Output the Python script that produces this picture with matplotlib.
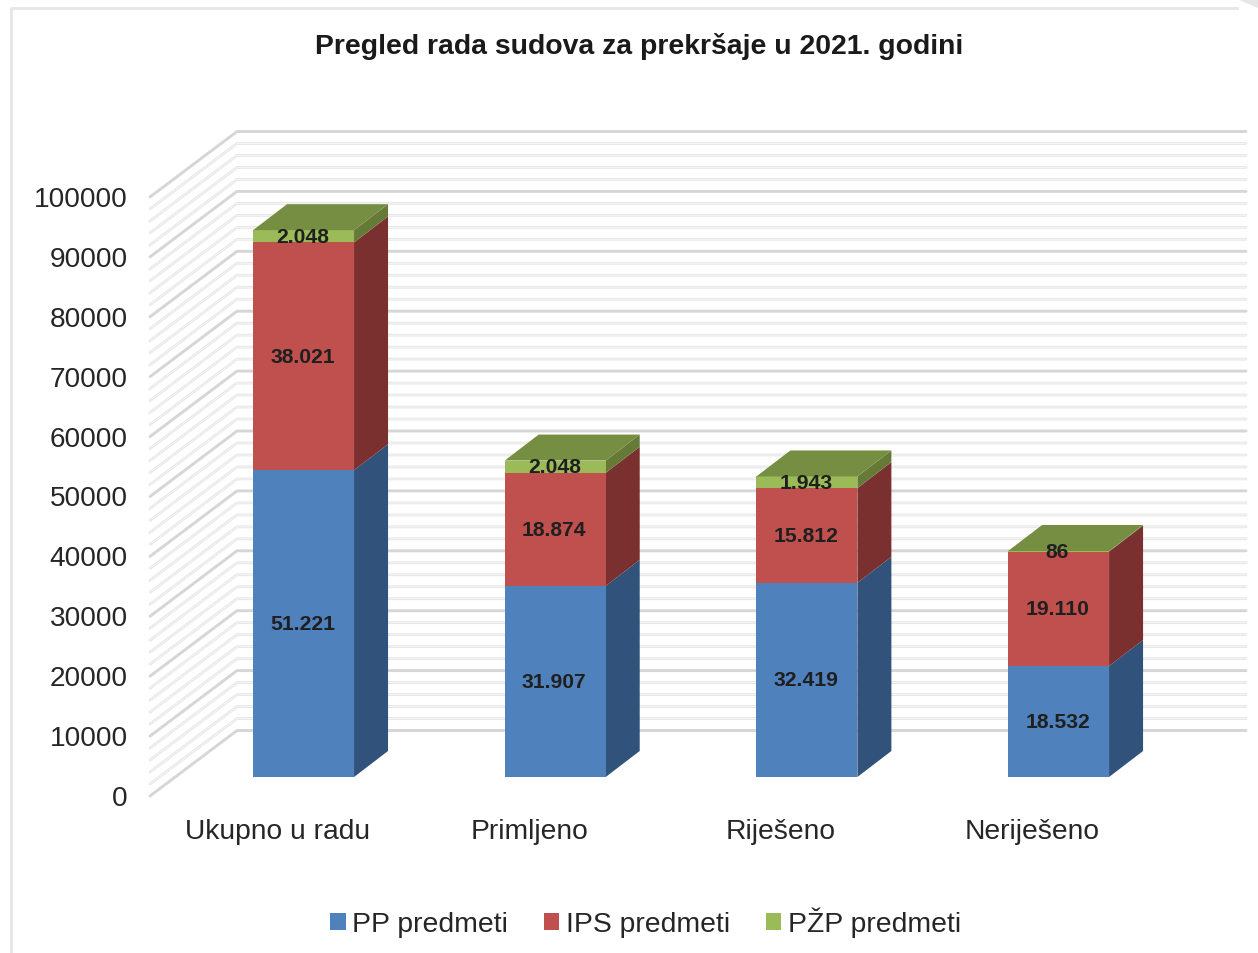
import matplotlib
matplotlib.use("Agg")
import matplotlib.pyplot as plt
from matplotlib.patches import Polygon, Patch
from matplotlib.lines import Line2D
from matplotlib.transforms import ScaledTranslation

plt.rcParams['font.family'] = ['Liberation Sans', 'DejaVu Sans']

title = "Pregled rada sudova za prekršaje u 2021. godini"
categories = ["Ukupno u radu", "Primljeno", "Riješeno", "Neriješeno"]
pp_values = [51221, 31907, 32419, 18532]
ips_values = [38021, 18874, 15812, 19110]
pzp_values = [2048, 2048, 1943, 86]
series_names = ["PP predmeti", "IPS predmeti", "PŽP predmeti"]
front_colors = ["#4f81bd", "#c0504d", "#9bbb59"]
side_colors = ["#31527b", "#7a302e", "#667a38"]
top_color = "#768e41"
y_ticks = list(range(0, 100001, 10000))
minor_ticks = list(range(0, 100001, 2000))

W, H = 1258, 954
fig = plt.figure(figsize=(W / 100, H / 100), dpi=100, facecolor="white")
L, R, B, T = 150, 1156.7, 797, 198
ax = fig.add_axes([L / W, 1 - B / H, (R - L) / W, (B - T) / H])
ax.set_xlim(-0.5, 3.5)
ax.set_ylim(0, 100000)
ax.patch.set_alpha(0)
for s in ax.spines.values():
    s.set_visible(False)

xu = (R - L) / 4          # px per category
yu = (B - T) / 100000     # px per value unit
WALL_X, WALL_Y = 87 / xu, 65.5 / yu
BAR_DX, BAR_DY = 34 / xu, 26 / yu
bar_width = 101 / xu
plane = ax.transData + ScaledTranslation(27.7 / 100, 19 / 100, fig.dpi_scale_trans)

# walls
x0, x1 = -0.5, 3.5 + 2.3 / xu
for v in minor_ticks:
    major = v % 10000 == 0
    c = "#d6d6d6" if major else "#e6e6e6"
    lw = 2.1 if major else 2.0
    ax.plot([x0, x0 + WALL_X, x1 + WALL_X], [v, v + WALL_Y, v + WALL_Y], color=c, lw=lw,
            clip_on=False, solid_capstyle="round", solid_joinstyle="round", zorder=1 + major)
    if not major:
        ax.plot([x0, x0 + WALL_X, x1 + WALL_X], [v, v + WALL_Y, v + WALL_Y], color="#f6f6f6", lw=0.7,
                clip_on=False, zorder=1.5)

# bars
positions = list(range(len(categories)))
stack = [0] * len(categories)
for k, vals in enumerate([pp_values, ips_values, pzp_values]):
    ax.bar(positions, vals, bar_width, bottom=stack, color=front_colors[k], linewidth=0,
           transform=plane, clip_on=False, zorder=4)
    for i, v in enumerate(vals):
        xr = positions[i] + bar_width / 2
        y0, y1 = stack[i], stack[i] + v
        ax.add_patch(Polygon([(xr, y0), (xr + BAR_DX, y0 + BAR_DY), (xr + BAR_DX, y1 + BAR_DY), (xr, y1)],
                             closed=True, fc=side_colors[k], ec="none", transform=plane,
                             clip_on=False, zorder=3))
        if v >= 1000:
            txt = f"{v:,}".replace(",", ".")
        else:
            txt = str(v)
        ax.text(positions[i] - 0.004, y0 + v / 2, txt, ha="center", va="center", fontsize=15.2, fontweight="bold",
                color="#1f1f1f", transform=plane, clip_on=False, zorder=6)
        stack[i] = y1
for i, t in enumerate(stack):
    xl, xr = positions[i] - bar_width / 2, positions[i] + bar_width / 2
    ax.add_patch(Polygon([(xl, t), (xr, t), (xr + BAR_DX, t + BAR_DY), (xl + BAR_DX, t + BAR_DY)],
                         closed=True, fc=top_color, ec="none", transform=plane, clip_on=False, zorder=5))

# axes text
ax.set_yticks(y_ticks)
ax.set_yticklabels([str(v) for v in y_ticks], fontsize=20.2, color="#262626")
ax.set_xticks(positions)
ax.set_xticklabels(categories, fontsize=20.3, color="#262626")
ax.tick_params(axis="y", length=0, pad=16)
ax.tick_params(axis="x", length=0, pad=16)
for lab in ax.get_xticklabels():
    lab.set_transform(lab.get_transform() + ScaledTranslation(1.7 / 100, 0, fig.dpi_scale_trans))
for lab in ax.get_yticklabels():
    lab.set_transform(lab.get_transform() + ScaledTranslation(0, 1 / 100, fig.dpi_scale_trans))

fig.text(639.5 / W, 1 - 46 / H, title, ha="center", va="center", fontsize=20.4, fontweight="bold", color="#1a1a1a")

handles = [Patch(fc=c, ec="none") for c in front_colors]
fig.legend(handles, series_names, ncol=3, loc="center", bbox_to_anchor=(645.5 / W, 1 - 923 / H),
           fontsize=20.4, frameon=False, handlelength=0.54, handleheight=0.54, handletextpad=0.22,
           columnspacing=1.28, labelcolor="#262626")

# outer chart frame
fig.add_artist(Line2D([10.5 / W, 10.5 / W, 1237 / W], [0, 1 - 9 / H, 1 - 9 / H], color="#e6e6e6", lw=2))
fig.add_artist(Polygon([(1237 / W, 1), (1, 1), (1, 1 - 9 / H)], closed=True, fc="#e6e6e6", ec="none",
                       transform=fig.transFigure))

fig.savefig("out.png", dpi=100)
